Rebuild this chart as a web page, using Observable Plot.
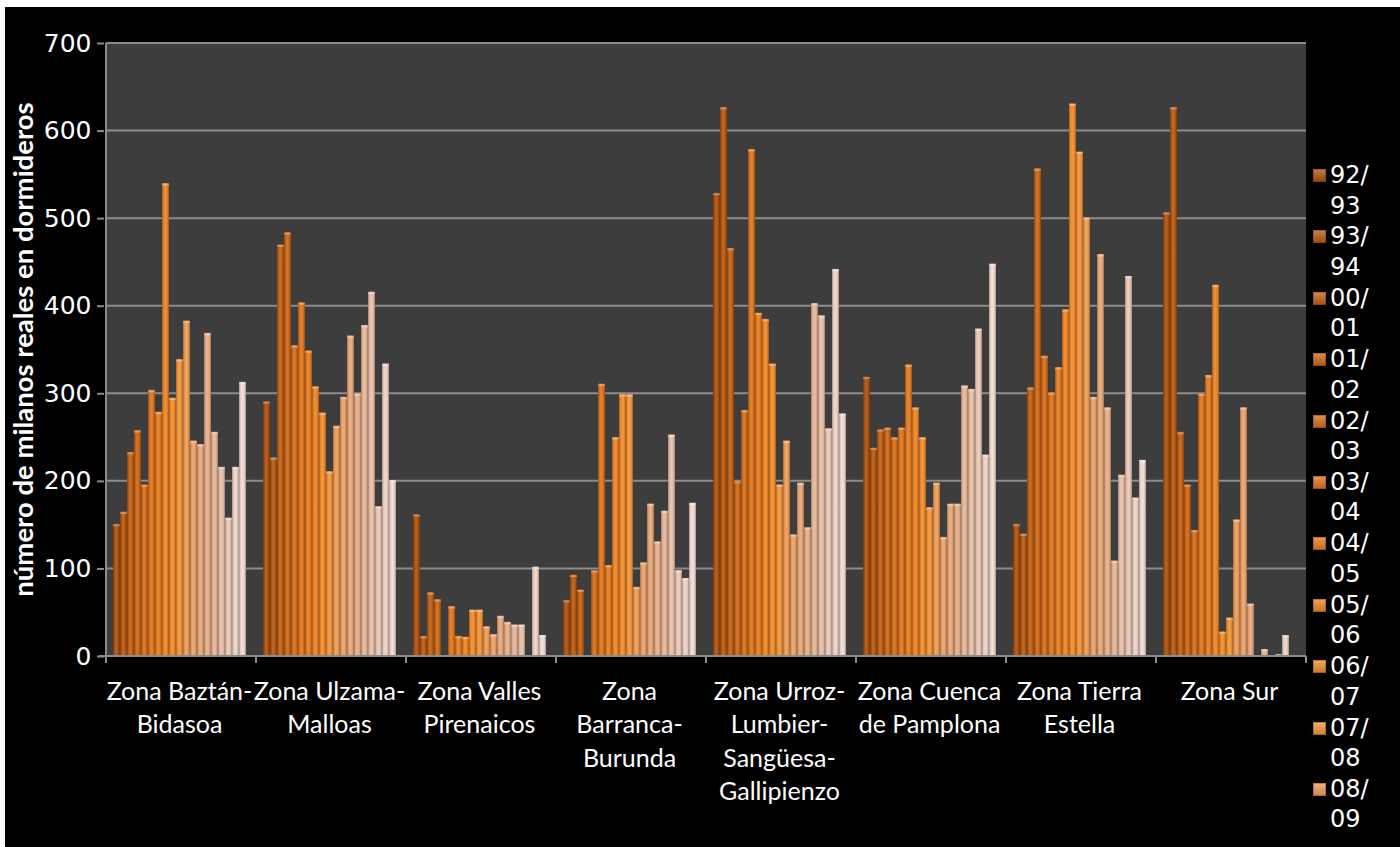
<!DOCTYPE html>
<html>
<head>
<meta charset="utf-8">
<script src="https://cdn.jsdelivr.net/npm/d3@7"></script>
<script src="https://cdn.jsdelivr.net/npm/@observablehq/plot@0.6"></script>
<style>
  html, body { margin: 0; padding: 0; background: #000; }
  #wrap { position: relative; width: 1400px; height: 847px; overflow: hidden; background: #000; }
  #wrap svg { position: absolute; left: 0; top: 0; }
  #legend { position: absolute; left: 1313px; top: 160px; font-family: "DejaVu Sans", sans-serif; font-size: 24px; color: #fff; }
  .item { display: flex; align-items: flex-start; height: 61.4px; }
  .sw { width: 13px; height: 13px; margin-top: 9px; margin-right: 4px; flex: none;
        box-shadow: inset 0 0 0 1px rgba(90,40,0,0.35); }
  .lbl { line-height: 30.5px; }
  .edgeTop { position: absolute; left: 0; top: 0; width: 1400px; height: 7px; background: #fff; }
  .edgeLeft { position: absolute; left: 0; top: 0; width: 5px; height: 847px; background: #fff; }
</style>
</head>
<body>
<div id="wrap"></div>
<script>
// ---------- data ----------
const zones = ["Baztán", "Ulzama", "Valles", "Barranca", "Urroz", "Cuenca", "Tierra", "Sur"];
const zoneLabels = [
  "Zona Baztán-\nBidasoa",
  "Zona Ulzama-\nMalloas",
  "Zona Valles\nPirenaicos",
  "Zona\nBarranca-\nBurunda",
  "Zona Urroz-\nLumbier-\nSangüesa-\nGallipienzo",
  "Zona Cuenca\nde Pamplona",
  "Zona Tierra\nEstella",
  "Zona Sur"
];
const seasons = ["92/93","93/94","00/01","01/02","02/03","03/04","04/05","05/06","06/07","07/08",
                 "08/09","09/10","10/11","11/12","12/13","13/14","14/15","15/16","16/17"];
// legend entries visible in the reference (the rest are cut off by the picture's bottom edge)
const legendSeasons = seasons.slice(0, 11);

const baztan   = [151,165,233,258,196,304,279,540,295,339,383,246,242,369,256,216,158,216,313];
const ulzama   = [291,227,470,484,355,404,349,308,278,211,263,296,366,300,378,416,171,334,201];
const valles   = [162,23,73,65,null,57,23,22,53,53,34,25,46,39,36,36,null,102,24];
const barranca = [64,93,76,null,98,311,104,250,299,299,79,107,174,131,166,253,98,89,175];
const urroz    = [529,627,466,200,281,579,392,385,334,196,246,139,198,147,403,389,260,442,277];
const cuenca   = [319,238,259,261,250,261,333,284,250,170,198,136,174,174,309,305,374,230,448];
const tierra   = [151,140,307,557,343,301,330,396,631,576,501,296,459,284,109,207,434,181,224];
const sur      = [507,627,256,196,144,300,321,424,28,44,156,284,60,null,8,null,2,24,null];

const yTicks = [0,100,200,300,400,500,600,700];
const yTitle = "número de milanos reales en dormideros";

// palette (one colour per season, dark orange -> pale pink)
const palette = ["#ad500c","#b7580f","#c15f12","#cb6615","#d56d18","#de751c","#e67c20","#ee8424",
                 "#f38c2a","#f29438","#ee9c55","#eba26a","#e9a87a","#e8af88","#e8b798","#e9c0a8",
                 "#ebc9b8","#eed2c6","#f2dcd2"];

// ---------- table ----------
const series = [baztan, ulzama, valles, barranca, urroz, cuenca, tierra, sur];
const rows = [];
zones.forEach((z, i) => series[i].forEach((v, j) => {
  if (v != null) rows.push({zone: z, season: seasons[j], value: v});
}));
const labelOf = new Map(zones.map((z, i) => [z, zoneLabels[i]]));

const GRID = "#8c8c8c";

// full horizontal extent of all facets, from the fx scale
function extent(scales, dims) {
  const fx = scales.fx;
  const n = zones.length;
  if (fx) return zones.map(z => fx(z)).concat([fx(zones[n - 1]) + fx.bandwidth()]);
  const fw = (dims.width - dims.marginLeft - dims.marginRight);
  return zones.map((z, i) => dims.marginLeft + i * fw).concat([dims.marginLeft + n * fw]);
}

// plot-area background + grid, drawn once (the first facet sits at offset 0)
let bgDone = false;
function background(index, scales, values, dims) {
  const g = d3.create("svg:g");
  if (bgDone) return g.node();
  bgDone = true;
  const {height, marginTop: mt, marginBottom: mb} = dims;
  const b = extent(scales, dims);
  const x0 = b[0], x1 = b[b.length - 1];
  g.append("rect").attr("x", x0).attr("y", mt)
    .attr("width", x1 - x0).attr("height", height - mt - mb).attr("fill", "#3d3d3d");
  const y = scales.y;
  yTicks.forEach(t => g.append("line").attr("x1", x0).attr("x2", x1)
    .attr("y1", y(t)).attr("y2", y(t)).attr("stroke", GRID).attr("stroke-width", 2));
  return g.node();
}

let decorDone = false;
function decor(index, scales, values, dims) {
  const g = d3.create("svg:g");
  if (decorDone) return g.node();   // draw once, in the first (left-most) facet
  decorDone = true;
  const {height, marginTop: mt, marginBottom: mb} = dims;
  const defs = g.append("defs");
  const lg = defs.append("linearGradient").attr("id", "shine")
    .attr("x1", 0).attr("x2", 1).attr("y1", 0).attr("y2", 0);
  [[0, "#000", 0.32], [0.2, "#000", 0.06], [0.4, "#fff", 0.14], [0.58, "#fff", 0.05],
   [0.82, "#000", 0.1], [1, "#000", 0.35]].forEach(([o, c, a]) =>
    lg.append("stop").attr("offset", o).attr("stop-color", c).attr("stop-opacity", a));
  const y0 = height - mb;
  const b = extent(scales, dims);
  const ml = b[0], xr = b[b.length - 1];
  // axis lines
  g.append("line").attr("x1", ml).attr("x2", ml).attr("y1", mt).attr("y2", y0)
    .attr("stroke", GRID).attr("stroke-width", 2);
  g.append("line").attr("x1", ml - 7).attr("x2", xr).attr("y1", y0).attr("y2", y0)
    .attr("stroke", GRID).attr("stroke-width", 2);
  b.forEach(x => g.append("line").attr("x1", x).attr("x2", x).attr("y1", y0).attr("y2", y0 + 7)
    .attr("stroke", GRID).attr("stroke-width", 2));
  // y title
  g.append("text")
    .attr("transform", `translate(21,${(mt + y0) / 2}) rotate(-90)`)
    .attr("text-anchor", "middle").attr("dy", "0.35em")
    .attr("font-family", "Lato, sans-serif").attr("font-weight", "bold")
    .attr("font-size", 27.5).attr("fill", "#fff")
    .text(yTitle);
  return g.node();
}

const chart = Plot.plot({
  width: 1400,
  height: 847,
  marginTop: 43,
  marginBottom: 191,
  marginLeft: 102,
  marginRight: 95,
  style: {background: "#000", color: "#fff", fontFamily: "DejaVu Sans, sans-serif", fontSize: "24px"},
  fx: {domain: zones, paddingInner: 0, paddingOuter: 0, axis: null},
  x: {domain: seasons, paddingInner: 0.06, paddingOuter: 0.72, axis: null},
  y: {domain: [0, 700]},
  color: {domain: seasons, range: palette},
  marks: [
    background,
    Plot.barY(rows, {fx: "zone", x: "season", y: "value", fill: "season"}),
    Plot.barY(rows, {fx: "zone", x: "season", y: "value", fill: "url(#shine)"}),
    Plot.tickY(rows, {fx: "zone", x: "season", y: "value", dy: 1, stroke: "#fff", strokeOpacity: 0.3, strokeWidth: 2}),
    Plot.axisY({ticks: yTicks, tickSize: 7, tickPadding: 6, stroke: GRID, strokeWidth: 2,
                label: null, fill: "#fff", fontSize: 25}),
    Plot.text(zones, {fx: d => d, text: d => labelOf.get(d), frameAnchor: "bottom", lineAnchor: "top",
                      dy: 20, lineHeight: 1.33, fontSize: 25, fontFamily: "Lato, sans-serif", fill: "#fff"}),
    decor
  ]
});

const wrap = document.getElementById("wrap");
wrap.appendChild(chart);

// legend (only the entries the reference shows before its bottom edge)
const legend = document.createElement("div");
legend.id = "legend";
legendSeasons.forEach((s, i) => {
  const [a, b] = s.split("/");
  const item = document.createElement("div");
  item.className = "item";
  const sw = document.createElement("div");
  sw.className = "sw";
  sw.style.background = `linear-gradient(180deg, rgba(255,255,255,0.25), rgba(0,0,0,0.15)), ${palette[i]}`;
  const lbl = document.createElement("div");
  lbl.className = "lbl";
  lbl.innerHTML = `${a}/<br>${b}`;
  item.appendChild(sw);
  item.appendChild(lbl);
  legend.appendChild(item);
});
wrap.appendChild(legend);
const t = document.createElement("div"); t.className = "edgeTop"; wrap.appendChild(t);
const l = document.createElement("div"); l.className = "edgeLeft"; wrap.appendChild(l);
</script>
</body>
</html>
